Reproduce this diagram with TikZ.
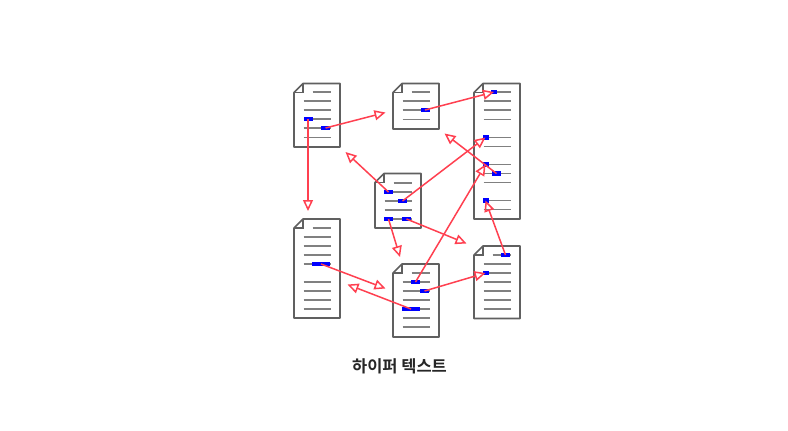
\documentclass[tikz,border=0pt]{standalone}
\usepackage{fontspec}
\newfontfamily\krfont{Noto Sans CJK KR}[BoldFont={Noto Sans CJK KR Bold}]
\usetikzlibrary{arrows.meta}
\definecolor{sheetline}{HTML}{606060}
\definecolor{textline}{HTML}{808080}
\definecolor{linkred}{HTML}{FF4050}
\tikzset{
  sheet/.style={draw=sheetline,line width=1.6pt,line join=round,fill=white},
  fold/.style={draw=sheetline,line width=1.2pt},
  rule/.style={draw=textline,line width=1.6pt},
  hl/.style={fill=blue,draw=none,inner sep=0pt,minimum height=4.4pt},
  link/.style={draw=linkred,line width=1.5pt,-{Triangle[open,length=11pt,width=10pt,line width=1.5pt]}},
  caption/.style={font=\krfont\bfseries\fontsize{16.5}{18}\selectfont,text=black!85,inner sep=0pt},
}
% #1 left, #2 top, #3 right, #4 bottom, #5 list of full rule ys, #6 y of short first rule
\newcommand{\sheetdoc}[6]{%
  \draw[sheet] (#1,#2+9) -- (#1+9,#2) -- (#3,#2) -- (#3,#4) -- (#1,#4) -- cycle;
  \draw[fold] (#1,#2+9) -- (#1+9,#2+9) -- (#1+9,#2);
  \draw[rule] (#1+18.5,#6) -- (#1+36.5,#6);
  \foreach \ry in {#5} {\draw[rule] (#1+9.5,\ry) -- (#1+36.5,\ry);}
}
\begin{document}
\begin{tikzpicture}[x=1pt,y=-1pt]
\useasboundingbox (0,0) rectangle (788,431);
\fill[white] (0,0) rectangle (788,431);
\sheetdoc{294}{83.5}{340}{147}{101,110,119,128,137.5}{92}
\sheetdoc{393}{83.5}{439}{129}{101,110,119.5}{92}
\sheetdoc{474}{83.5}{520}{219}{101,110,119.5,137.5,146.5,164.5,173.5,182.5,200.5,209.5}{92}
\sheetdoc{375}{173.5}{421}{228}{192,201,210,219}{183}
\sheetdoc{294}{219}{340}{318}{237,246,255,264,282,291,300,309}{228}
\sheetdoc{393}{264}{439}{337}{282,291,300,309,318,327}{273}
\sheetdoc{474}{246}{520}{318.5}{264,273,282,291,300,309}{255}

\node[hl,minimum width=9pt] (a1) at (308,119) {};
\node[hl,minimum width=9pt] (a2) at (325.5,128) {};
\node[hl,minimum width=9pt] (b1) at (425,110) {};
\node[hl,minimum width=6pt] (c1) at (494,92) {};
\node[hl,minimum width=6pt] (c2) at (485.5,137.5) {};
\node[hl,minimum width=6pt] (c3) at (485.5,164.5) {};
\node[hl,minimum width=9pt] (c4) at (496.5,173.5) {};
\node[hl,minimum width=6pt] (c5) at (485.5,200.5) {};
\node[hl,minimum width=9pt] (d1) at (388.5,192) {};
\node[hl,minimum width=9pt] (d2) at (402.5,201) {};
\node[hl,minimum width=9pt] (d3) at (388.5,219) {};
\node[hl,minimum width=9pt] (d4) at (406.5,219) {};
\node[hl,minimum width=18pt] (e1) at (321,264) {};
\node[hl,minimum width=9pt] (f1) at (415.5,282) {};
\node[hl,minimum width=9pt] (f2) at (424.5,291) {};
\node[hl,minimum width=18pt] (f3) at (411,309) {};
\node[hl,minimum width=9pt] (g1) at (505.5,255) {};
\node[hl,minimum width=6pt] (g2) at (485.5,273) {};

\coordinate (t1) at (385.5,112.5);
\coordinate (t2) at (308,211);
\coordinate (t4) at (444.5,133.5);
\coordinate (t6) at (345.5,152);
\coordinate (t7) at (400,257);
\coordinate (t8) at (466.5,243.5);
\coordinate (t9) at (385.5,288.5);
\coordinate (t10) at (347.5,284.5);

\draw[link] (a2.center) -- (t1);
\draw[link] (a1.center) -- (t2);
\draw[link] (b1.center) -- (c1.center);
\draw[link] (c4.center) -- (t4);
\draw[link] (d2.center) -- (c2.center);
\draw[link] (d1.center) -- (t6);
\draw[link] (d3.center) -- (t7);
\draw[link] (d4.center) -- (t8);
\draw[link] (e1.center) -- (t9);
\draw[link] (f3.center) -- (t10);
\draw[link] (f1.center) -- (c3.center);
\draw[link] (f2.center) -- (g2.center);
\draw[link] (g1.center) -- (c5.center);

\node[caption] (cap) at (399.5,366.5) {하이퍼 텍스트};
\end{tikzpicture}
\end{document}
